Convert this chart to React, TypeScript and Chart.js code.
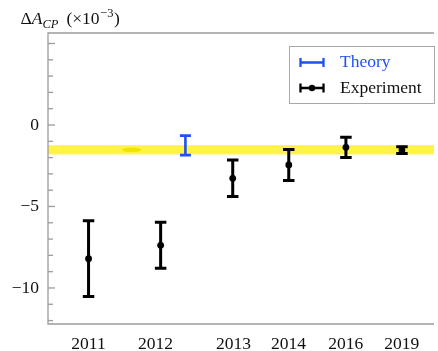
import React, { useEffect, useRef } from "react";
import { Chart, registerables } from "chart.js";

Chart.register(...registerables);

// ---- data ----
const years = ["2011", "2012", "2013", "2014", "2016", "2019"];
const yearTickPos = [0, 1.19, 2.575, 3.55, 4.565, 5.56];
const expPos = [0, 1.28, 2.56, 3.555, 4.57, 5.565];
const expValues = [-8.2, -7.38, -3.27, -2.45, -1.37, -1.54];
const expErrors = [2.33, 1.41, 1.12, 0.95, 0.62, 0.21];
const theoryPos = [1.72];
const theoryValues = [-1.25];
const theoryErrors = [0.6];
const bandCenter = -1.52;
const bandHalfWidth = 0.285;
const bandMarkPos = [0.765];
const yLabelValues = [0, -5, -10];
const yLabelTexts = ["0", "−5", "−10"];
const yMinorFrom = -12;
const yMinorTo = 5;
const legendLabels = ["Theory", "Experiment"];

const X_MIN = -0.72;
const X_MAX = 6.134;
const Y_MIN = -12.21;
const Y_MAX = 5.644;

const SERIF = "'Liberation Serif', 'DejaVu Serif', serif";
const BLUE = "#1f50f5";
const AXIS_GRAY = "#9c9c9c";

function drawErrorBar(ctx: CanvasRenderingContext2D, x: number, yTop: number, yBot: number, cap: number, color: string, lw: number) {
  ctx.save();
  ctx.strokeStyle = color;
  ctx.lineWidth = lw;
  ctx.lineCap = "butt";
  ctx.beginPath();
  ctx.moveTo(x, yTop);
  ctx.lineTo(x, yBot);
  ctx.moveTo(x - cap / 2, yTop);
  ctx.lineTo(x + cap / 2, yTop);
  ctx.moveTo(x - cap / 2, yBot);
  ctx.lineTo(x + cap / 2, yBot);
  ctx.stroke();
  ctx.restore();
}

const customPlugin = {
  id: "custom",
  beforeDatasetsDraw(chart: any) {
    const { ctx, chartArea, scales } = chart;
    const xs = scales.x;
    const ys = scales.y;
    // yellow band
    const yT = ys.getPixelForValue(bandCenter + bandHalfWidth);
    const yB = ys.getPixelForValue(bandCenter - bandHalfWidth);
    ctx.save();
    ctx.fillStyle = "#fff34a";
    ctx.fillRect(chartArea.left, yT, chartArea.right - chartArea.left, yB - yT);
    // darker mark on band
    bandMarkPos.forEach((p) => {
      const cx = xs.getPixelForValue(p);
      const cy = ys.getPixelForValue(bandCenter);
      ctx.fillStyle = "#f3e200";
      ctx.beginPath();
      ctx.ellipse(cx, cy, 9.5, 2.3, 0, 0, Math.PI * 2);
      ctx.fill();
    });
    ctx.restore();

    // theory error bars
    theoryPos.forEach((p, i) => {
      const x = xs.getPixelForValue(p);
      drawErrorBar(ctx, x, ys.getPixelForValue(theoryValues[i] + theoryErrors[i]), ys.getPixelForValue(theoryValues[i] - theoryErrors[i]), 11, BLUE, 2.6);
    });
    // experiment error bars
    expPos.forEach((p, i) => {
      const x = xs.getPixelForValue(p);
      drawErrorBar(ctx, x, ys.getPixelForValue(expValues[i] + expErrors[i]), ys.getPixelForValue(expValues[i] - expErrors[i]), 11.5, "#000", 3);
    });
  },
  afterDraw(chart: any) {
    const { ctx, chartArea, scales } = chart;
    const ys = scales.y;
    ctx.save();
    // frame
    ctx.strokeStyle = AXIS_GRAY;
    ctx.lineWidth = 1.3;
    ctx.beginPath();
    ctx.moveTo(chartArea.right, chartArea.top);
    ctx.lineTo(chartArea.left, chartArea.top);
    ctx.lineTo(chartArea.left, chartArea.bottom);
    ctx.lineTo(chartArea.right, chartArea.bottom);
    ctx.stroke();
    // inward y ticks
    for (let v = yMinorFrom; v <= yMinorTo; v++) {
      const y = ys.getPixelForValue(v);
      const len = v % 5 === 0 ? 7 : 5;
      ctx.beginPath();
      ctx.moveTo(chartArea.left, y);
      ctx.lineTo(chartArea.left + len, y);
      ctx.stroke();
    }

    // axis title
    ctx.fillStyle = "#111";
    ctx.textBaseline = "alphabetic";
    ctx.textAlign = "left";
    let x = 20.5;
    const base = 24;
    ctx.font = `17.5px ${SERIF}`;
    ctx.fillText("Δ", x, base);
    x += ctx.measureText("Δ").width;
    ctx.font = `italic 17.5px ${SERIF}`;
    ctx.fillText("A", x, base);
    x += ctx.measureText("A").width;
    ctx.font = `italic 12.5px ${SERIF}`;
    ctx.fillText("CP", x, base + 4);
    x += ctx.measureText("CP").width + 8;
    ctx.font = `17.5px ${SERIF}`;
    ctx.fillText("(×10", x, base);
    x += ctx.measureText("(×10").width + 0.5;
    ctx.font = `12.5px ${SERIF}`;
    ctx.fillText("−3", x, base - 7.5);
    x += ctx.measureText("−3").width + 0.5;
    ctx.font = `17.5px ${SERIF}`;
    ctx.fillText(")", x, base);

    // legend
    const lx = 289, ly = 46, lw = 145, lh = 57;
    ctx.fillStyle = "#fff";
    ctx.fillRect(lx, ly, lw, lh);
    ctx.strokeStyle = "#a8a8a8";
    ctx.lineWidth = 1;
    ctx.strokeRect(lx + 0.5, ly + 0.5, lw, lh);
    const rows = [62.5, 88];
    const colors = [BLUE, "#000"];
    rows.forEach((ry, i) => {
      ctx.strokeStyle = colors[i];
      ctx.lineWidth = 2.3;
      ctx.beginPath();
      ctx.moveTo(300, ry);
      ctx.lineTo(324, ry);
      ctx.moveTo(300.5, ry - 4.5);
      ctx.lineTo(300.5, ry + 4.5);
      ctx.moveTo(323.5, ry - 4.5);
      ctx.lineTo(323.5, ry + 4.5);
      ctx.stroke();
      if (i === 1) {
        ctx.fillStyle = "#000";
        ctx.beginPath();
        ctx.arc(312, ry, 3.2, 0, Math.PI * 2);
        ctx.fill();
      }
      ctx.fillStyle = i === 0 ? BLUE : "#111";
      ctx.font = `17.5px ${SERIF}`;
      ctx.textBaseline = "middle";
      ctx.fillText(legendLabels[i], 340, ry);
    });
    ctx.restore();
  },
};

export default function App() {
  const ref = useRef<HTMLCanvasElement | null>(null);
  useEffect(() => {
    if (!ref.current) return;
    const chart = new Chart(ref.current, {
      type: "scatter",
      data: {
        datasets: [
          {
            label: legendLabels[1],
            data: expPos.map((p, i) => ({ x: p, y: expValues[i] })),
            backgroundColor: "#000",
            borderColor: "#000",
            pointRadius: 3.4,
            pointBorderWidth: 0,
          },
        ],
      },
      options: {
        animation: false,
        responsive: false,
        devicePixelRatio: 1,
        layout: { padding: { top: 33, left: 0, right: 0, bottom: 0 } },
        plugins: { legend: { display: false }, tooltip: { enabled: false }, title: { display: false } },
        scales: {
          x: {
            type: "linear",
            min: X_MIN,
            max: X_MAX,
            afterBuildTicks: (s: any) => {
              s.ticks = yearTickPos.map((v) => ({ value: v }));
            },
            afterFit: (s: any) => {
              s.height = 27;
            },
            grid: { display: false, drawTicks: false },
            border: { display: false },
            ticks: {
              autoSkip: false,
              maxRotation: 0,
              padding: 10,
              color: "#111",
              font: { family: SERIF, size: 17.5 },
              callback: (_v: any, i: number) => years[i],
            },
          },
          y: {
            type: "linear",
            min: Y_MIN,
            max: Y_MAX,
            afterBuildTicks: (s: any) => {
              s.ticks = yLabelValues.map((v) => ({ value: v }));
            },
            afterFit: (s: any) => {
              s.width = 48;
            },
            grid: { display: false, drawTicks: false },
            border: { display: false },
            ticks: {
              padding: 9,
              color: "#111",
              font: { family: SERIF, size: 17.5 },
              callback: (_v: any, i: number) => yLabelTexts[i],
            },
          },
        },
      },
      plugins: [customPlugin],
    });
    return () => chart.destroy();
  }, []);
  return (
    <div style={{ position: "fixed", left: 0, top: 0, width: 438, height: 351, background: "#fff" }}>
      <canvas ref={ref} width={438} height={351} style={{ width: 438, height: 351, display: "block" }} />
    </div>
  );
}
